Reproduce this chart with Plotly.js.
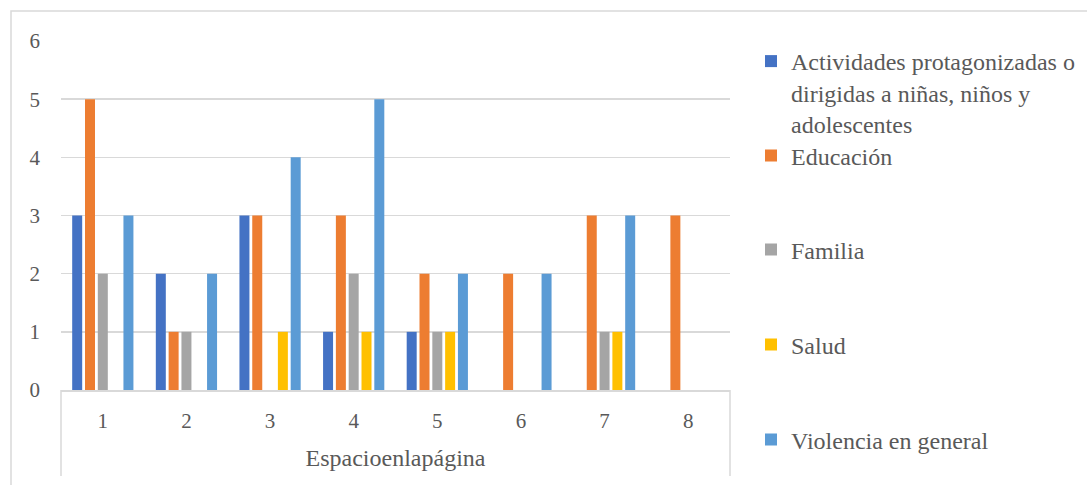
<!DOCTYPE html>
<html>
<head>
<meta charset="utf-8">
<script src="https://cdn.plot.ly/plotly-3.0.1.min.js"></script>
<style>
html,body{margin:0;padding:0;background:#fff;font-family:'Liberation Serif', serif;}
#chart{width:1087px;height:485px;}
</style>
</head>
<body>
<div id="chart"></div>
<script>
const categories = ['1', '2', '3', '4', '5', '6', '7', '8'];
const seriesNames = [
  'Actividades protagonizadas o<br>dirigidas a niñas, niños y<br>adolescentes',
  'Educación',
  'Familia',
  'Salud',
  'Violencia en general'
];
const actividades = [3, 2, 3, 1, 1, 0, 0, 0];
const educacion   = [5, 1, 3, 3, 2, 2, 3, 3];
const familia     = [2, 1, 0, 2, 1, 0, 1, 0];
const salud       = [0, 0, 1, 1, 1, 0, 1, 0];
const violencia   = [3, 2, 4, 5, 2, 2, 3, 0];
const yTicks = [0, 1, 2, 3, 4, 5, 6];
const xTitle = 'Espacioenlapágina';

const colors = ['#4472C4', '#ED7D31', '#A5A5A5', '#FFC000', '#5B9BD5'];
const values = [actividades, educacion, familia, salud, violencia];
const legendIds = ['legend', 'legend2', 'legend3', 'legend4', 'legend5'];

const W = 1087, H = 485;
const L = 61, R = 730, T = 41, B = 390;
const px = v => (v - L) / (R - L);
const py = v => (B - v) / (B - T);

const traces = values.map((vals, i) => ({
  type: 'bar',
  x: categories,
  y: vals,
  name: seriesNames[i],
  marker: {color: colors[i], line: {width: 0}},
  legend: legendIds[i],
  showlegend: true,
  hoverinfo: 'skip'
}));

const fontFam = 'Liberation Serif';
const grey = '#595959';
const legendCenters = [61, 156, 250, 345, 440];

const layout = {
  width: W, height: H,
  showlegend: true,
  margin: {l: L, r: W - R, t: T, b: H - B, pad: 0, autoexpand: false},
  paper_bgcolor: '#ffffff',
  plot_bgcolor: '#ffffff',
  barmode: 'group',
  bargap: 0.234,
  bargroupgap: 0.22,
  font: {family: fontFam, color: grey, size: 21},
  xaxis: {
    type: 'category',
    showgrid: false,
    showline: true,
    linecolor: '#D9D9D9',
    linewidth: 1.5,
    ticks: '',
    ticklabelstandoff: 11,
    tickfont: {family: fontFam, size: 21, color: grey},
    title: {text: xTitle, font: {family: fontFam, size: 24, color: grey}, standoff: 17},
    zeroline: false,
    fixedrange: true
  },
  yaxis: {
    range: [0, 6],
    tickvals: yTicks,
    ticktext: yTicks.map(String),
    showgrid: true,
    gridcolor: '#D9D9D9',
    gridwidth: 1.5,
    zeroline: false,
    showline: false,
    ticks: '',
    ticklabelstandoff: 20,
    tickfont: {family: fontFam, size: 21, color: grey},
    fixedrange: true
  },
  shapes: [
    {type: 'rect', xref: 'paper', yref: 'paper', x0: px(11), x1: px(1100), y0: py(500), y1: py(11),
     line: {color: '#D9D9D9', width: 1.5}, fillcolor: 'rgba(0,0,0,0)', layer: 'below'},
    {type: 'line', xref: 'paper', yref: 'paper', x0: 0, x1: 0, y0: 0, y1: py(476),
     line: {color: '#D9D9D9', width: 1.5}},
    {type: 'line', xref: 'paper', yref: 'paper', x0: 1, x1: 1, y0: 0, y1: py(476),
     line: {color: '#D9D9D9', width: 1.5}}
  ]
};

legendIds.forEach((id, i) => {
  layout[id] = {
    x: px(751),
    xanchor: 'left',
    y: i === 0 ? py(legendCenters[i] - 22) : py(legendCenters[i]),
    yanchor: i === 0 ? 'top' : 'middle',
    valign: 'top',
    bgcolor: 'rgba(0,0,0,0)',
    borderwidth: 0,
    font: {family: fontFam, size: 24, color: grey},
    itemclick: false,
    itemdoubleclick: false
  };
});

Plotly.newPlot('chart', traces, layout, {displayModeBar: false, staticPlot: true});
</script>
</body>
</html>
